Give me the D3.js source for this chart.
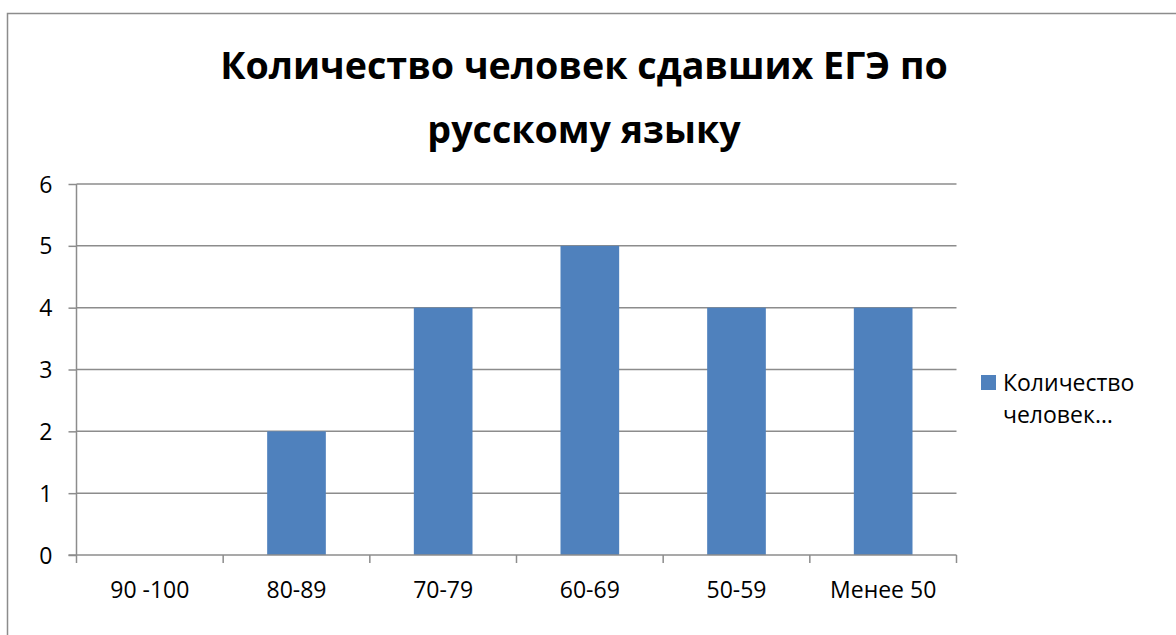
<!DOCTYPE html>
<html>
<head>
<meta charset="utf-8">
<script src="https://cdn.jsdelivr.net/npm/d3@7"></script>
<style>
  body { margin: 0; background: #fff; }
  text { font-family: "Open Sans", "Noto Sans", sans-serif; fill: #000; }
</style>
</head>
<body>
<svg id="chart" width="1176" height="635"></svg>
<script>
var categories = ['90 -100', '80-89', '70-79', '60-69', '50-59', 'Менее 50'];
var values = [0, 2, 4, 5, 4, 4];
var yTicks = [0, 1, 2, 3, 4, 5, 6];
var titleLines = ['Количество человек сдавших ЕГЭ по', 'русскому языку'];
var legendLines = ['Количество', 'человек…'];

var svg = d3.select('#chart');

// outer frame, cut by the picture edge on right and bottom
svg.append('rect')
    .attr('x', 7.5).attr('y', 13.5)
    .attr('width', 1200).attr('height', 700)
    .attr('fill', 'none')
    .attr('stroke', '#8c8c8c')
    .attr('stroke-width', 1.5);

var plot = { left: 76.5, right: 956.5, top: 184, bottom: 555 };
var labelSize = 23;

var x = d3.scaleBand()
    .domain(categories)
    .range([plot.left, plot.right])
    .paddingInner(0.6)
    .paddingOuter(0.3);

var y = d3.scaleLinear()
    .domain([0, 6])
    .range([plot.bottom, plot.top]);

// grid
svg.append('g')
    .selectAll('line')
    .data(yTicks.filter(d => d > 0))
    .enter()
    .append('line')
    .attr('x1', plot.left).attr('x2', plot.right)
    .attr('y1', d => y(d)).attr('y2', d => y(d))
    .attr('stroke', '#8c8c8c')
    .attr('stroke-width', 1.5);

// bars
svg.append('g')
    .selectAll('rect')
    .data(values)
    .enter()
    .append('rect')
    .attr('x', (d, i) => x(categories[i]))
    .attr('width', x.bandwidth())
    .attr('y', d => y(d))
    .attr('height', d => plot.bottom - y(d))
    .attr('fill', '#4f81bd');

// y axis
var yAxis = svg.append('g')
    .attr('transform', `translate(${plot.left},0)`)
    .call(d3.axisLeft(y).tickValues(yTicks).tickSize(8).tickPadding(16).tickFormat(d3.format('d')));
yAxis.selectAll('line').attr('stroke', '#8c8c8c').attr('stroke-width', 1.5);
yAxis.select('.domain').attr('stroke', '#8c8c8c').attr('stroke-width', 1.5).attr('d', `M0,${plot.top}V${plot.bottom}`);
yAxis.selectAll('text').attr('font-size', labelSize).attr('dy', '0.35em');

// x axis, ticks between categories
var bounds = d3.range(categories.length + 1).map(i => plot.left + i * (plot.right - plot.left) / categories.length);
var xAxis = svg.append('g');
xAxis.append('line')
    .attr('x1', plot.left - 8).attr('x2', plot.right)
    .attr('y1', plot.bottom).attr('y2', plot.bottom)
    .attr('stroke', '#8c8c8c').attr('stroke-width', 1.5);
xAxis.selectAll('line.tick')
    .data(bounds)
    .enter()
    .append('line')
    .attr('class', 'tick')
    .attr('x1', d => d).attr('x2', d => d)
    .attr('y1', plot.bottom).attr('y2', plot.bottom + 8)
    .attr('stroke', '#8c8c8c').attr('stroke-width', 1.5);
xAxis.selectAll('text')
    .data(categories)
    .enter()
    .append('text')
    .attr('x', d => x(d) + x.bandwidth() / 2)
    .attr('y', 598)
    .attr('text-anchor', 'middle')
    .attr('font-size', labelSize)
    .text(d => d);

// title, sized to the reference width
var title = svg.append('g');
title.selectAll('text')
    .data(titleLines)
    .enter()
    .append('text')
    .attr('x', 584)
    .attr('y', (d, i) => 79 + i * 64)
    .attr('text-anchor', 'middle')
    .attr('font-weight', 'bold')
    .attr('font-size', 40)
    .text(d => d);
var first = title.select('text').node();
var fit = 40 * 728 / first.getComputedTextLength();
title.selectAll('text').attr('font-size', fit);

// legend
var legend = svg.append('g');
legend.append('rect')
    .attr('x', 981).attr('y', 375)
    .attr('width', 15).attr('height', 15)
    .attr('fill', '#4f81bd');
legend.selectAll('text')
    .data(legendLines)
    .enter()
    .append('text')
    .attr('x', 1003)
    .attr('y', (d, i) => 391 + i * 32)
    .attr('font-size', labelSize)
    .text(d => d);
</script>
</body>
</html>
